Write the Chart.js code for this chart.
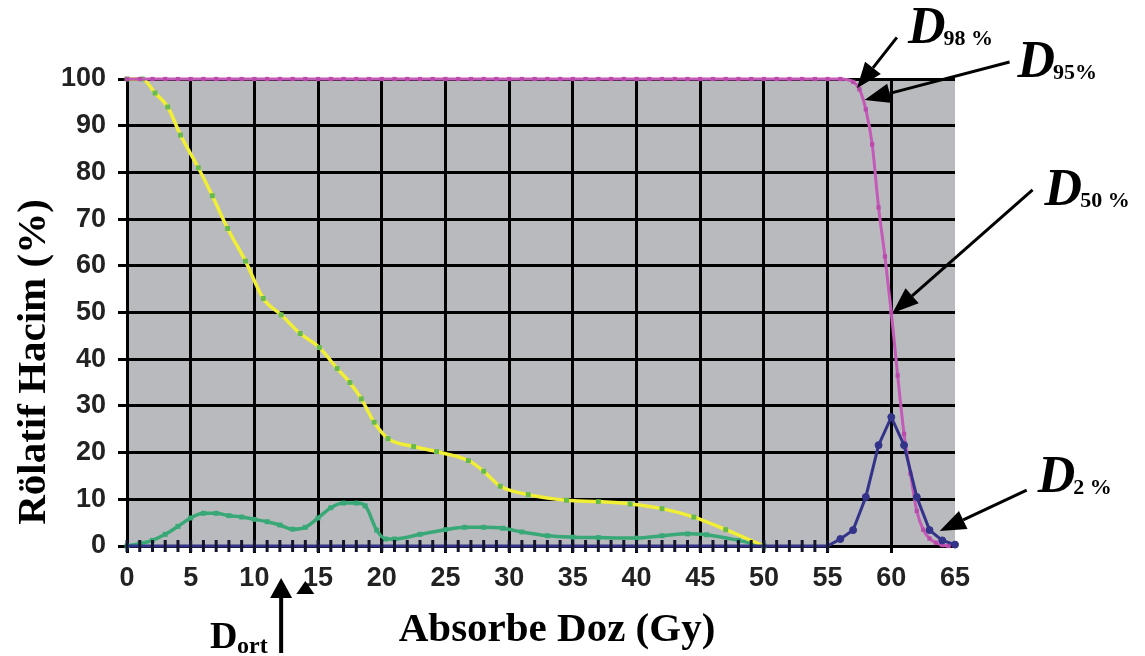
<!DOCTYPE html>
<html>
<head>
<meta charset="utf-8">
<script src="https://cdn.jsdelivr.net/npm/chart.js@4/dist/chart.umd.min.js"></script>
<style>
  html, body { margin: 0; padding: 0; background: #fff; }
  #wrap { width: 1145px; height: 656px; }
</style>
</head>
<body>
<div id="wrap"><canvas id="dvhChart" width="1145" height="656"></canvas></div>
<script>
// axis ticks
const doseTicks = [0, 5, 10, 15, 20, 25, 30, 35, 40, 45, 50, 55, 60, 65];
const volumeTicks = [0, 10, 20, 30, 40, 50, 60, 70, 80, 90, 100];

// yellow curve (green markers)
const yellowDose = [0, 1.2, 2.2, 3.2, 4.2, 5.6, 6.7, 7.9, 9.3, 10.7, 12.1, 13.6, 15.1, 16.5, 17.5, 18.4, 19.4, 20.5, 22.5, 24.3, 26.8, 28, 29.3, 31.5, 34.5, 37, 39.5, 42, 44.5, 47, 50];
const yellowVolume = [100, 100, 97, 94, 88, 81, 75, 68, 61, 53, 49.5, 45.5, 42.5, 38, 35, 31.5, 26.5, 23, 21.3, 20.2, 18.3, 16, 12.8, 11, 9.8, 9.5, 9, 8, 6.2, 3.5, 0];

// teal curve near the bottom
const tealDose = [0, 1, 2, 3, 4, 5, 6, 7, 8, 9, 10, 11, 12, 13, 14, 15, 16, 17, 18, 18.7, 19.6, 20.3, 21, 23, 25, 26.5, 28, 29.5, 31, 33, 35, 37, 40, 42, 44, 45.5, 48, 50];
const tealVolume = [0, 0.5, 1.2, 2.5, 4.2, 6, 7, 7, 6.5, 6.2, 5.7, 5.2, 4.5, 3.6, 4, 6, 8.2, 9.2, 9.2, 8.6, 3.4, 1.5, 1.5, 2.5, 3.5, 4, 4, 3.8, 3, 2.2, 1.9, 1.8, 1.7, 2.2, 2.6, 2.4, 1.2, 0];

// pink (target) curve
const pinkDose = [0, 1, 2, 3, 4, 5, 6, 7, 8, 9, 10, 11, 12, 13, 14, 15, 16, 17, 18, 19,
  20, 21, 22, 23, 24, 25, 26, 27, 28, 29, 30, 31, 32, 33, 34, 35, 36, 37, 38, 39,
  40, 41, 42, 43, 44, 45, 46, 47, 48, 49, 50, 51, 52, 53, 54, 55, 56,
  57, 57.5, 58, 58.5, 59, 59.5, 60, 60.5, 61, 61.5, 62, 62.5, 63, 63.5, 64, 64.5];
const pinkVolume = [100, 100, 100, 100, 100, 100, 100, 100, 100, 100, 100, 100, 100, 100, 100, 100, 100, 100, 100, 100,
  100, 100, 100, 100, 100, 100, 100, 100, 100, 100, 100, 100, 100, 100, 100, 100, 100, 100, 100, 100,
  100, 100, 100, 100, 100, 100, 100, 100, 100, 100, 100, 100, 100, 100, 100, 100, 100,
  99.4, 97.8, 93.5, 86, 72.5, 62, 50, 36.5, 24, 15.5, 7.5, 3.5, 1.6, 0.7, 0.2, 0];

// navy curve (peak at 60 Gy)
const navyDose = [0, 1, 2, 3, 4, 5, 6, 7, 8, 9, 10, 11, 12, 13, 14, 15, 16, 17, 18, 19,
  20, 21, 22, 23, 24, 25, 26, 27, 28, 29, 30, 31, 32, 33, 34, 35, 36, 37, 38, 39,
  40, 41, 42, 43, 44, 45, 46, 47, 48, 49, 50, 51, 52, 53, 54, 55,
  56, 57, 58, 59, 60, 61, 62, 63, 64, 65];
const navyVolume = [0, 0, 0, 0, 0, 0, 0, 0, 0, 0, 0, 0, 0, 0, 0, 0, 0, 0, 0, 0,
  0, 0, 0, 0, 0, 0, 0, 0, 0, 0, 0, 0, 0, 0, 0, 0, 0, 0, 0, 0,
  0, 0, 0, 0, 0, 0, 0, 0, 0, 0, 0, 0, 0, 0, 0, 0,
  1.5, 3.4, 10.5, 21.6, 27.6, 21.6, 10.5, 3.4, 1.2, 0.3];

const PLOT_BG = '#b9babd';
const SERIF = '"Times New Roman", "Liberation Serif", serif';
const SANS = '"Liberation Sans", Arial, sans-serif';

const toPoints = (xs, ys) => xs.map((x, i) => ({ x, y: ys[i] }));
const isFlat = c => c.raw && c.raw.y === 0;

// Arrow notes: tip in data units, tail / label as pixel offsets from the tip
const dNotes = [
  { sub: '98 %', tip: [57.3, 98], tail: [40, -51], text: [51, -45] },
  { sub: '95%', tip: [57.9, 95.5], tail: [145, -38], text: [153, -23] },
  { sub: '50 %', tip: [60.1, 49.9], tail: [140, -123], text: [152, -108] },
  { sub: '2 %', tip: [63.8, 3.2], tail: [87, -41], text: [98, -39] }
];
const meanDose = 12.1;
const markerDose = 14.0;

function drawArrow(ctx, x1, y1, x2, y2, headLen, halfW, lw) {
  const ang = Math.atan2(y2 - y1, x2 - x1);
  const bx = x2 - headLen * Math.cos(ang);
  const by = y2 - headLen * Math.sin(ang);
  ctx.save();
  ctx.strokeStyle = '#000';
  ctx.fillStyle = '#000';
  ctx.lineWidth = lw;
  ctx.beginPath();
  ctx.moveTo(x1, y1);
  ctx.lineTo(bx, by);
  ctx.stroke();
  ctx.beginPath();
  ctx.moveTo(x2, y2);
  ctx.lineTo(bx + halfW * Math.sin(ang), by - halfW * Math.cos(ang));
  ctx.lineTo(bx - halfW * Math.sin(ang), by + halfW * Math.cos(ang));
  ctx.closePath();
  ctx.fill();
  ctx.restore();
}

const notesPlugin = {
  id: 'notesPlugin',
  beforeDraw(chart) {
    const { ctx, chartArea: a } = chart;
    ctx.save();
    ctx.fillStyle = PLOT_BG;
    ctx.fillRect(a.left, a.top, a.right - a.left, a.bottom - a.top);
    ctx.restore();
  },
  afterDraw(chart) {
    const { ctx, chartArea: a, scales: { x, y } } = chart;
    ctx.save();
    ctx.fillStyle = '#000';
    ctx.textBaseline = 'alphabetic';

    // axis titles
    ctx.font = `bold 41px ${SERIF}`;
    ctx.textAlign = 'center';
    ctx.fillText('Absorbe Doz (Gy)', 557, 641);
    ctx.save();
    ctx.translate(45, 362);
    ctx.rotate(-Math.PI / 2);
    ctx.fillText('Rölatif Hacim (%)', 0, 0);
    ctx.restore();

    // D labels with arrows
    ctx.textAlign = 'left';
    dNotes.forEach(n => {
      const tx = x.getPixelForValue(n.tip[0]);
      const ty = y.getPixelForValue(n.tip[1]);
      drawArrow(ctx, tx + n.tail[0], ty + n.tail[1], tx, ty, 26, 10, 3);
      const lx = tx + n.text[0];
      const ly = ty + n.text[1];
      ctx.font = `italic bold 52px ${SERIF}`;
      ctx.fillText('D', lx, ly);
      const w = ctx.measureText('D').width;
      ctx.font = `bold 22px ${SERIF}`;
      ctx.fillText(n.sub, lx + w - 2, ly + 2);
    });

    // mean dose arrow and small marker below the axis
    const mx = x.getPixelForValue(meanDose);
    drawArrow(ctx, mx, a.bottom + 107, mx, a.bottom + 32, 20, 11, 4);
    ctx.font = `bold 38px ${SERIF}`;
    ctx.fillText('D', 210, 648);
    ctx.font = `bold 24px ${SERIF}`;
    ctx.fillText('ort', 237, 653);

    const tx = x.getPixelForValue(markerDose);
    ctx.beginPath();
    ctx.moveTo(tx, a.bottom + 35);
    ctx.lineTo(tx + 9, a.bottom + 48);
    ctx.lineTo(tx - 9, a.bottom + 48);
    ctx.closePath();
    ctx.fill();
    ctx.restore();
  }
};

new Chart(document.getElementById('dvhChart'), {
  type: 'line',
  data: {
    datasets: [
      {
        label: 'navy',
        data: toPoints(navyDose, navyVolume),
        clip: false,
        borderColor: '#33338a',
        borderWidth: 3,
        tension: 0,
        pointStyle: c => (isFlat(c) ? 'line' : 'circle'),
        rotation: c => (isFlat(c) ? 90 : 0),
        pointRadius: c => (isFlat(c) ? 6 : 3.5),
        pointBorderColor: c => (isFlat(c) ? '#15152e' : '#33338a'),
        pointBackgroundColor: '#33338a',
        pointBorderWidth: c => (isFlat(c) ? 3 : 1)
      },
      {
        label: 'pink',
        data: toPoints(pinkDose, pinkVolume),
        clip: false,
        borderColor: '#c45ab8',
        borderWidth: 3,
        cubicInterpolationMode: 'monotone',
        pointStyle: 'rect',
        pointRadius: 3,
        pointBorderWidth: 0,
        pointBackgroundColor: '#b94aab'
      },
      {
        label: 'yellow',
        data: toPoints(yellowDose, yellowVolume),
        clip: false,
        borderColor: '#f1ef35',
        borderWidth: 3.5,
        cubicInterpolationMode: 'monotone',
        pointStyle: 'rect',
        pointRadius: 3.5,
        pointBorderWidth: 0,
        pointBackgroundColor: '#67bb4c'
      },
      {
        label: 'teal',
        data: toPoints(tealDose, tealVolume),
        clip: false,
        borderColor: '#38a877',
        borderWidth: 3.5,
        cubicInterpolationMode: 'monotone',
        pointStyle: 'rect',
        pointRadius: 3.5,
        pointBorderWidth: 0,
        pointBackgroundColor: '#38a877'
      }
    ]
  },
  options: {
    responsive: false,
    animation: false,
    devicePixelRatio: 1,
    layout: { padding: { top: 79, right: 190, left: 0, bottom: 0 } },
    plugins: {
      legend: { display: false },
      tooltip: { enabled: false }
    },
    scales: {
      x: {
        type: 'linear',
        min: 0,
        max: 65,
        afterFit: s => { s.height = 110; },
        afterBuildTicks: s => { s.ticks = doseTicks.map(v => ({ value: v })); },
        grid: {
          color: c => (c.tick && c.tick.value === 65 ? 'rgba(0,0,0,0)' : '#000'),
          lineWidth: 3,
          tickLength: 7
        },
        border: { color: '#000', width: 3 },
        ticks: {
          color: '#222',
          padding: 9,
          maxRotation: 0,
          font: { family: SANS, size: 27, weight: 'bold' }
        }
      },
      y: {
        min: 0,
        max: 100,
        afterFit: s => { s.width = 127; },
        afterBuildTicks: s => { s.ticks = volumeTicks.map(v => ({ value: v })); },
        grid: { color: '#000', lineWidth: 3, tickLength: 9 },
        border: { color: '#000', width: 3 },
        ticks: {
          color: '#222',
          padding: 12,
          font: { family: SANS, size: 27, weight: 'bold' }
        }
      }
    }
  },
  plugins: [notesPlugin]
});
</script>
</body>
</html>
